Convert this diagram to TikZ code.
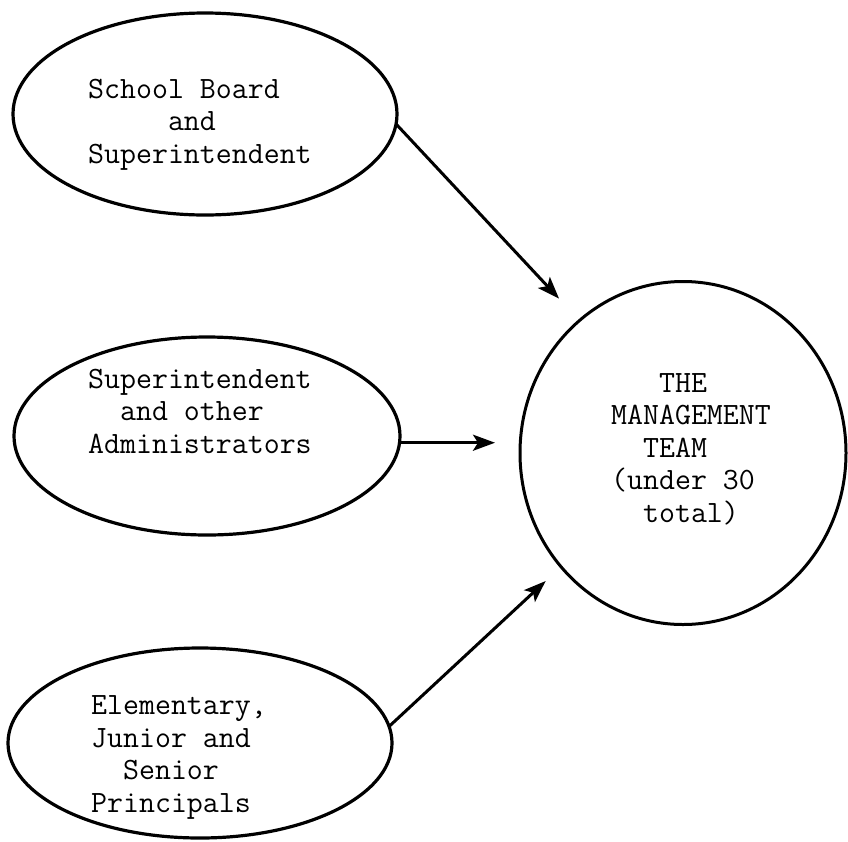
\documentclass[tikz,border=0pt]{standalone}
\usetikzlibrary{shapes.geometric, arrows.meta, positioning, calc}

\begin{document}
\begin{tikzpicture}[
    x=1pt, y=-1pt,
    >={Stealth[length=22pt, width=16pt, inset=5pt]},
    groupnode/.style={draw, ellipse, line width=3.2pt, inner sep=0pt, outer sep=0pt},
    teamnode/.style={draw, ellipse, line width=3pt, inner sep=0pt, outer sep=0pt},
    typed/.style={anchor=base west, inner sep=0pt, align=left, font=\fontsize{31}{32.5}\selectfont\ttfamily},
    flow/.style={->, line width=3pt, shorten >=#1},
    flow/.default=0pt
]
    \useasboundingbox (0,0) rectangle (848,841);

    \node[groupnode, minimum width=384pt, minimum height=202pt] (sch_board) at (205,114) {};
    \node[typed] (sch_board_txt) at (88,163) {School Board\\\ \ \ \ \ and\\Superintendent};

    \node[groupnode, minimum width=386pt, minimum height=198pt] (sup_admin) at (207,436) {};
    \node[typed] (sup_admin_txt) at (88,453) {Superintendent\\\ \ and other\\Administrators};

    \node[groupnode, minimum width=384pt, minimum height=190pt] (principals) at (200,743) {};
    \node[typed] (principals_txt) at (91,812) {Elementary,\\Junior and\\\ \ Senior\\Principals};

    \node[teamnode, minimum width=326pt, minimum height=343pt] (mgmt_team) at (683,453) {};
    \node[typed] (mgmt_team_txt) at (611,522) {\ \ \ THE\\MANAGEMENT\\\ \ TEAM\\(under 30\\\ \ total)};

    \draw[flow=30pt] (sch_board.-3) -- (mgmt_team.128);
    \draw[flow=25pt] (sup_admin.-2) -- (sup_admin.-2 -| mgmt_team.west);
    \draw[flow=21pt] (principals.5) -- (mgmt_team.223);
\end{tikzpicture}
\end{document}
